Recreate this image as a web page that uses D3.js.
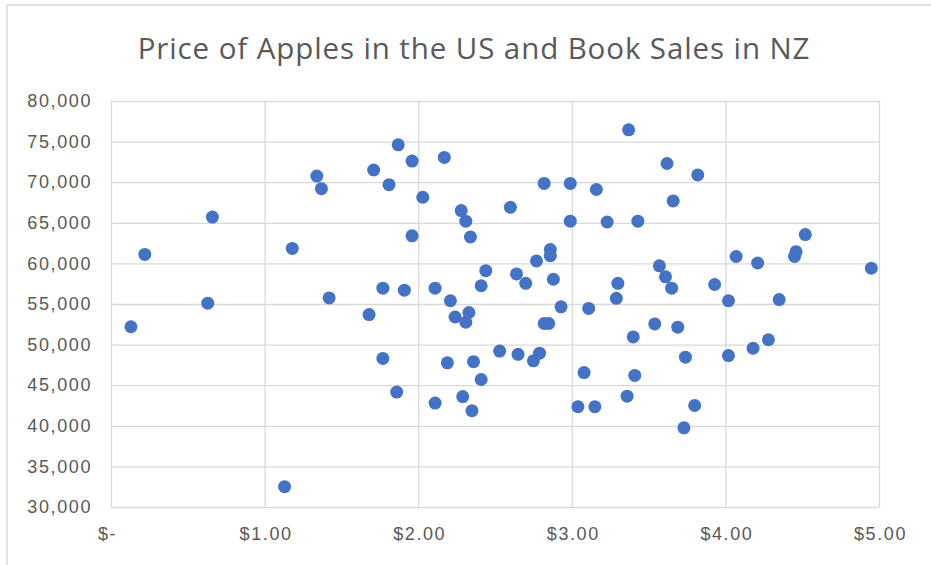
<!DOCTYPE html>
<html>
<head>
<meta charset="utf-8">
<script src="https://cdn.jsdelivr.net/npm/d3@7"></script>
<style>
  body { margin: 0; background: #fff; }
  svg { display: block; font-family: "Open Sans", sans-serif; }
  .tick text { fill: #595959; font-size: 18px; letter-spacing: 1.6px; }
  .grid line { stroke: #d9d9d9; stroke-width: 1.3; }
</style>
</head>
<body>
<script>
//chart values
var chartTitle = "Price of Apples in the US and Book Sales in NZ";

var applePrice = [0.13, 0.22, 0.63, 0.66, 1.13, 1.18, 1.34, 1.37, 1.42, 1.68,
  1.71, 1.77, 1.77, 1.81, 1.86, 1.87, 1.91, 1.96, 1.96, 2.03,
  2.11, 2.11, 2.17, 2.19, 2.21, 2.24, 2.28, 2.29, 2.31, 2.31,
  2.33, 2.34, 2.35, 2.36, 2.41, 2.41, 2.44, 2.53, 2.60, 2.64,
  2.65, 2.70, 2.75, 2.77, 2.79, 2.82, 2.82, 2.85, 2.86, 2.86,
  2.88, 2.93, 2.99, 2.99, 3.04, 3.08, 3.11, 3.15, 3.16, 3.23,
  3.29, 3.30, 3.36, 3.37, 3.40, 3.41, 3.43, 3.54, 3.57, 3.61,
  3.62, 3.65, 3.66, 3.69, 3.73, 3.74, 3.80, 3.82, 3.93, 4.02,
  4.02, 4.07, 4.18, 4.21, 4.28, 4.35, 4.45, 4.46, 4.52, 4.95];

var bookSales = [52200, 61100, 55100, 65700, 32500, 61850, 70750, 69200, 55750, 53700,
  71500, 56950, 48300, 69700, 44150, 74600, 56700, 72600, 63400, 68150,
  56950, 42800, 73050, 47750, 55400, 53400, 66500, 43600, 65200, 52750,
  53950, 63250, 41850, 47900, 57250, 45700, 59100, 49200, 66900, 58700,
  48800, 57550, 48000, 60300, 48950, 69850, 52600, 52600, 61700, 60950,
  58050, 54650, 69850, 65200, 42350, 46550, 54450, 42350, 69100, 65100,
  55700, 57550, 43650, 76450, 50950, 46200, 65200, 52550, 59700, 58350,
  72300, 56950, 67700, 52150, 39750, 48450, 42500, 70900, 57400, 48650,
  55400, 60850, 49550, 60050, 50600, 55550, 60850, 61450, 63550, 59400];

var xTicks = [0, 1, 2, 3, 4, 5];
var yTicks = [30000, 35000, 40000, 45000, 50000, 55000, 60000, 65000, 70000, 75000, 80000];

(function(){

  var width = 931,
      height = 565,
      margin = {top: 101, right: 52, bottom: 58, left: 111},
      innerWidth = width - margin.left - margin.right,
      innerHeight = height - margin.top - margin.bottom;

  var svg = d3.select("body")
      .append("svg")
      .attr("width", width)
      .attr("height", height);

  //chart area border (only top and left edges fall inside the picture)
  svg.append("rect")
      .attr("x", 7)
      .attr("y", 5)
      .attr("width", 1000)
      .attr("height", 1000)
      .attr("fill", "#fff")
      .attr("stroke", "#d9d9d9")
      .attr("stroke-width", 1.5);

  //title
  svg.append("text")
      .attr("x", 474)
      .attr("y", 59)
      .attr("text-anchor", "middle")
      .attr("fill", "#595959")
      .style("font-size", "29.5px")
      .style("letter-spacing", "0.9px")
      .text(chartTitle);

  var g = svg.append("g")
      .attr("transform", "translate(" + margin.left + "," + margin.top + ")");

  var xScale = d3.scaleLinear().domain([0, 5]).range([0, innerWidth]);
  var yScale = d3.scaleLinear().domain([30000, 80000]).range([innerHeight, 0]);

  //vertical gridlines + x labels
  var xAxis = d3.axisBottom(xScale)
      .tickValues(xTicks)
      .tickSize(-innerHeight)
      .tickPadding(20)
      .tickFormat(function(d){ return d === 0 ? "$-" : "$" + d3.format(".2f")(d); });

  g.append("g")
      .attr("class", "grid")
      .attr("transform", "translate(0," + innerHeight + ")")
      .call(xAxis)
      .call(function(s){ s.select(".domain").remove(); })
      .selectAll(".tick text")
      .attr("dx", function(d){ return d === 0 ? -4 : 1; });

  //horizontal gridlines + y labels
  var yAxis = d3.axisLeft(yScale)
      .tickValues(yTicks)
      .tickSize(-innerWidth)
      .tickPadding(19)
      .tickFormat(d3.format(","));

  g.append("g")
      .attr("class", "grid")
      .call(yAxis)
      .call(function(s){ s.select(".domain").remove(); });

  //points
  g.selectAll(".dot")
      .data(applePrice)
      .enter()
      .append("circle")
      .attr("class", "dot")
      .attr("cx", function(d){ return xScale(d); })
      .attr("cy", function(d, i){ return yScale(bookSales[i]); })
      .attr("r", 6.5)
      .attr("fill", "#4472c4");

})();
</script>
</body>
</html>
